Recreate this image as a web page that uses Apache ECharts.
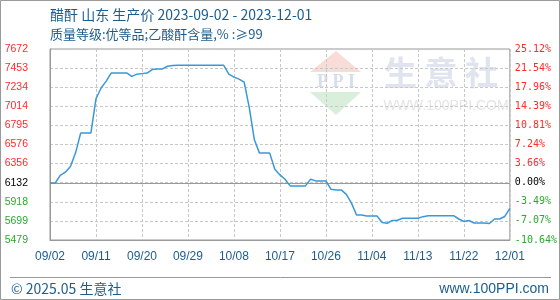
<!DOCTYPE html>
<html>
<head>
<meta charset="utf-8">
<script src="https://cdn.jsdelivr.net/npm/echarts@6/dist/echarts.min.js"></script>
<style>
html,body{margin:0;padding:0;background:#fff;}
#chart{width:560px;height:300px;}
</style>
</head>
<body>
<div id="chart"></div>
<script>
// ---- data ----
const titleLine1 = '醋酐 山东 生产价 2023-09-02 - 2023-12-01';
const titleLine2 = '质量等级:优等品;乙酸酐含量,% :≥99';
const startDate = '2023-09-02';
const dayCount = 91;
const prices = [
  6132, 6132, 6221, 6257, 6322, 6479, 6706, 6706, 6706, 7100,
  7223, 7302, 7396, 7396, 7396, 7396, 7357, 7382, 7388, 7394,
  7434, 7440, 7442, 7473, 7480, 7483, 7483, 7483, 7483, 7483,
  7483, 7483, 7483, 7483, 7483, 7382, 7348, 7325, 7290, 6997,
  6629, 6476, 6476, 6476, 6290, 6226, 6176, 6100, 6100, 6100,
  6100, 6177, 6157, 6157, 6157, 6060, 6054, 6054, 6002, 5902,
  5766, 5766, 5755, 5755, 5755, 5680, 5671, 5704, 5705, 5728,
  5728, 5728, 5728, 5747, 5758, 5758, 5758, 5758, 5758, 5758,
  5720, 5692, 5703, 5674, 5674, 5674, 5669, 5720, 5720, 5749,
  5841
];
const leftTickLabels = ['5479','5699','5918','6132','6356','6576','6795','7014','7234','7453','7672'];
const rightTickLabels = ['-10.64%','-7.07%','-3.49%','0.00%','3.66%','7.24%','10.81%','14.39%','17.96%','21.54%','25.12%'];
const baseValue = 6132;
const yMin = 5479;
const yInterval = 219.16;
const footerLeft = '© 2025.05 生意社';
const footerRight = 'www.100PPI.com';

// ---- build categories (consecutive days) ----
const categories = [];
{
  const d0 = new Date(startDate + 'T00:00:00Z');
  for (let i = 0; i < dayCount; i++) {
    const d = new Date(d0.getTime() + i * 86400000);
    const mm = String(d.getUTCMonth() + 1).padStart(2, '0');
    const dd = String(d.getUTCDate()).padStart(2, '0');
    categories.push(mm + '/' + dd);
  }
}

const RED = '#ff2a2a', GREEN = '#2fa82f', BLACK = '#000';
const BLUE_TXT = '#1b5e8e';
function tickIdx(v){ return Math.round((v - yMin) / yInterval); }
function tickColor(v){
  const i = tickIdx(v);
  if (i === 3) return BLACK;
  return i > 3 ? RED : GREEN;
}

const chart = echarts.init(document.getElementById('chart'), null, {renderer:'canvas'});
const yMax = yMin + yInterval * 10;

chart.setOption({
  animation: false,
  backgroundColor: '#fff',
  title: [
    {text: titleLine1, left: 50, top: 7, padding: 0,
     textStyle: {fontSize: 14, fontWeight: 'normal', color: BLUE_TXT, fontFamily: 'Noto Sans CJK SC', lineHeight: 16}},
    {text: titleLine2, left: 50, top: 26, padding: 0,
     textStyle: {fontSize: 13, fontWeight: 'normal', color: BLUE_TXT, fontFamily: 'Noto Sans CJK SC', lineHeight: 16}}
  ],
  grid: {left: 50, top: 49, width: 460, height: 191, show: true, borderColor: '#999', borderWidth: 1, backgroundColor: 'transparent'},
  xAxis: {
    type: 'category', data: categories, boundaryGap: false,
    axisLine: {show: true, lineStyle: {color: '#999'}},
    axisTick: {show: false},
    axisLabel: {interval: 8, margin: 11, color: BLUE_TXT, fontSize: 12, fontFamily: 'Liberation Sans'},
    splitLine: {show: true, interval: 8, lineStyle: {color: '#c8c8c8', type: [3, 2], width: 1}}
  },
  yAxis: [
    {
      type: 'value', min: yMin, max: yMax, interval: yInterval,
      axisLine: {show: true, lineStyle: {color: '#999'}},
      axisTick: {show: false},
      axisLabel: {margin: 22, fontSize: 10.5, fontFamily: 'Liberation Sans',
        formatter: v => leftTickLabels[tickIdx(v)] || '', color: v => tickColor(v)},
      splitLine: {show: true, lineStyle: {color: '#c8c8c8', type: [3, 2], width: 1}}
    },
    {
      type: 'value', min: yMin, max: yMax, interval: yInterval, position: 'right',
      axisLine: {show: false}, axisTick: {show: false},
      axisLabel: {margin: 5, fontSize: 10, fontFamily: 'DejaVu Sans Mono', align: 'left',
        formatter: v => rightTickLabels[tickIdx(v)] || '', color: v => tickColor(v)},
      splitLine: {show: false}
    }
  ],
  series: [{
    type: 'line', data: prices, yAxisIndex: 0,
    symbol: 'none', smooth: false,
    lineStyle: {color: '#3a98d8', width: 1.5},
    markLine: {
      silent: true, symbol: 'none', label: {show: false},
      lineStyle: {color: '#999', type: 'solid', width: 1},
      data: [{yAxis: baseValue}]
    },
    z: 5
  }],
  graphic: [
    // watermark
    {type: 'polygon', z: -10, shape: {points: [[336, 51], [310, 72], [361, 72]]}, style: {fill: '#f9dcd7'}},
    {type: 'polygon', z: -10, shape: {points: [[310, 92], [361, 92], [336, 115]]}, style: {fill: '#d9efdb'}},
    {type: 'text', z: -10, x: 336, y: 82, style: {text: 'P P I', fontSize: 18, fontWeight: 'bold', fontFamily: 'Liberation Serif', fill: '#d6ddec', align: 'center', verticalAlign: 'middle'}},
    {type: 'text', z: -10, x: 384, y: 72, style: {text: '生 意 社', fontSize: 33, fontWeight: 'bold', fontFamily: 'Noto Sans CJK SC', fill: '#dfe4ee', align: 'left', verticalAlign: 'middle'}},
    {type: 'text', z: -10, x: 446, y: 106, style: {text: 'WWW.100PPI.COM', fontSize: 14, fontFamily: 'Liberation Sans', fill: '#e4e4e4', align: 'center', verticalAlign: 'middle'}},
    // footer
    {type: 'line', shape: {x1: 10, y1: 277.5, x2: 551, y2: 277.5}, style: {stroke: '#999', lineWidth: 1}},
    {type: 'text', x: 11, y: 289, style: {text: footerLeft, fontSize: 14, fontFamily: 'Noto Sans CJK SC', fill: BLUE_TXT, align: 'left', verticalAlign: 'middle'}},
    {type: 'text', x: 549, y: 289, style: {text: footerRight, fontSize: 14, fontFamily: 'Liberation Sans', fill: BLUE_TXT, align: 'right', verticalAlign: 'middle'}},
    // outer border
    {type: 'rect', shape: {x: 0.5, y: 0.5, width: 559, height: 299}, style: {fill: 'none', stroke: '#999', lineWidth: 1}}
  ]
});
</script>
</body>
</html>
